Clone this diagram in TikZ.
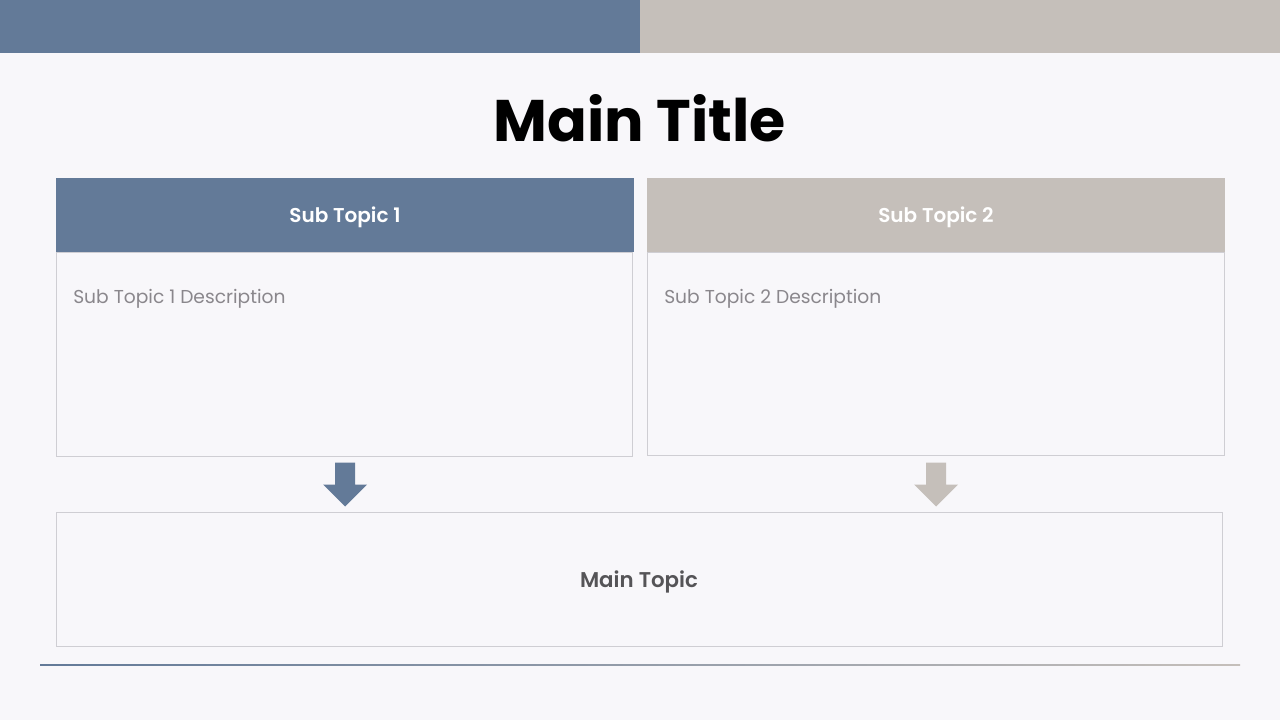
\documentclass[tikz,border=0pt]{standalone}
\usepackage{fontspec}
\setmainfont{Poppins}
\newfontfamily\semibold{Poppins SemiBold}
\usetikzlibrary{calc}
\definecolor{slateblue}{HTML}{637A98}
\definecolor{stonegray}{HTML}{C5BFBA}
\definecolor{pagebg}{HTML}{F8F7FA}
\definecolor{framegray}{HTML}{CFCED3}
\definecolor{desctext}{HTML}{8A878C}
\definecolor{maintext}{HTML}{555457}
\tikzset{
  headbox/.style={minimum width=433.5pt, minimum height=55.5pt, inner sep=0pt,
    text depth=0pt, text=white, font=\fontsize{15}{18}\semibold},
  bodybox/.style={draw=framegray, line width=0.75pt, fill=pagebg, inner sep=0pt,
    minimum width=432pt, minimum height=153pt},
  desc/.style={anchor=west, inner sep=0pt, text=desctext, font=\fontsize{14}{17}\selectfont},
}

\begin{document}
\begin{tikzpicture}[x=0.75pt, y=-0.75pt]
    \fill[pagebg] (0,0) rectangle (1280,720);
    \useasboundingbox (0,0) rectangle (1280,720);
    \fill[slateblue] (0,0) rectangle (640,53);
    \fill[stonegray] (640,0) rectangle (1280,53);
    \node[font=\fontsize{44}{52}\selectfont\bfseries] (title) at (640,118) {Main Title};
    % sub topics
    \node[bodybox] (body1) at (344,354) {};
    \node[headbox, fill=slateblue] (head1) at (345,215) {Sub Topic 1};
    \node[desc] (desc1) at (73,299) {Sub Topic 1 Description};
    \node[bodybox, minimum width=432.75pt, minimum height=152.25pt] (body2) at (935.5,353.5) {};
    \node[headbox, fill=stonegray] (head2) at (936,215) {Sub Topic 2};
    \node[desc] (desc2) at (664,299) {Sub Topic 2 Description};
    % main topic
    \node[bodybox, minimum width=874.5pt, minimum height=100.5pt, text depth=0pt,
      text=maintext, font=\fontsize{16}{19}\semibold] (main) at (639,579) {Main Topic};
    % block arrows
    \fill[slateblue] ($(head1.center |- body1.south)+(-10,6)$) -- ++(20,0) -- ++(0,22)
      -- ++(12,0) -- ++(-22,22) -- ++(-22,-22) -- ++(12,0) -- cycle;
    \fill[stonegray] ($(head2.center |- body2.south)+(-10,7)$) -- ++(20,0) -- ++(0,22)
      -- ++(12,0) -- ++(-22,22) -- ++(-22,-22) -- ++(12,0) -- cycle;
    % bottom rule
    \shade[left color=slateblue, right color=stonegray] (40,664.2) rectangle (1240,665.8);
    \end{tikzpicture}
\end{document}
